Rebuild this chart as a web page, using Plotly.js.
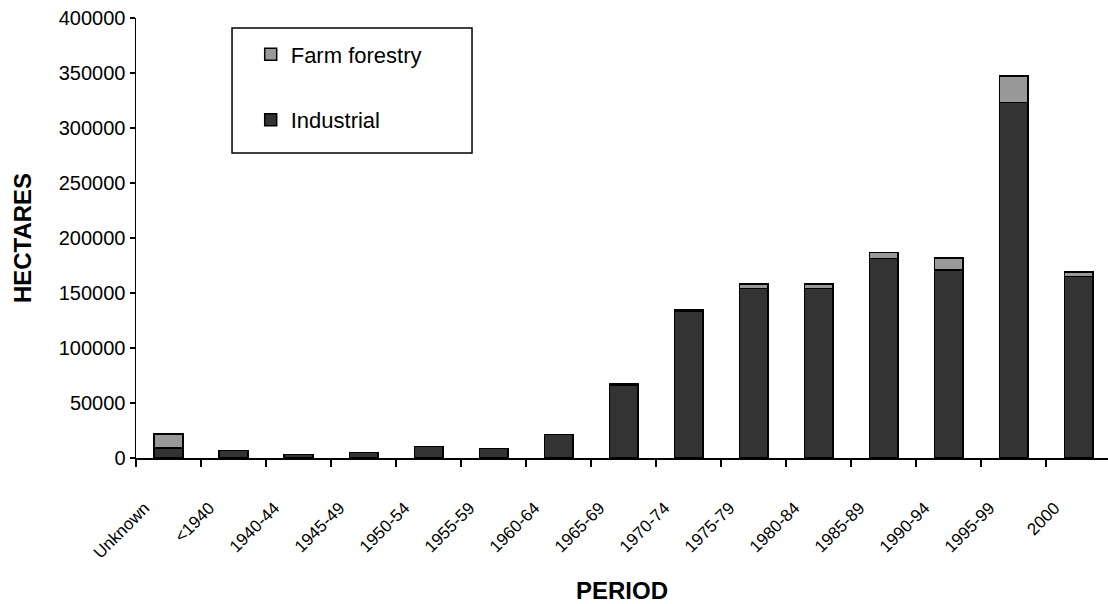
<!DOCTYPE html>
<html>
<head>
<meta charset="utf-8">
<script src="https://cdn.plot.ly/plotly-3.0.1.min.js"></script>
<style>
html,body{margin:0;padding:0;background:#fff;}
#chart{width:1108px;height:604px;}
</style>
</head>
<body>
<div id="chart"></div>
<script>
const categories = ["Unknown","<1940","1940-44","1945-49","1950-54","1955-59","1960-64","1965-69","1970-74","1975-79","1980-84","1985-89","1990-94","1995-99","2000"];
const industrial = [9000, 7000, 3000, 5000, 10500, 8500, 21500, 66000, 133000, 154000, 154000, 181500, 171000, 323000, 165000];
const farmForestry = [13000, 0, 0, 0, 0, 0, 0, 1500, 1500, 4000, 4000, 5500, 11000, 24500, 4000];
const yTicks = [0, 50000, 100000, 150000, 200000, 250000, 300000, 350000, 400000];

const FONT = '"Liberation Sans", Arial, sans-serif';

const traces = [
  {
    type: 'bar', name: 'Industrial', x: categories, y: industrial,
    legendgroup: 'ind', legendrank: 2,
    marker: {color: '#333333', line: {color: '#000000', width: 1.5}},
    hoverinfo: 'skip'
  },
  {
    type: 'bar', name: 'Farm forestry', x: categories, y: farmForestry,
    legendgroup: 'farm', legendrank: 1,
    marker: {color: '#999999', line: {color: '#000000', width: 1.5}},
    hoverinfo: 'skip'
  }
];

const layout = {
  width: 1108, height: 604,
  paper_bgcolor: '#ffffff', plot_bgcolor: '#ffffff',
  font: {family: FONT, color: '#000000', size: 20},
  margin: {l: 136, r: 0, t: 18, b: 146, pad: 0},
  barmode: 'stack',
  bargap: 0.56,
  showlegend: true,
  legend: {
    x: 0.118, y: 0.965, xanchor: 'left', yanchor: 'top',
    bgcolor: 'rgba(0,0,0,0)', borderwidth: 0,
    traceorder: 'grouped', tracegroupgap: 34,
    font: {family: FONT, size: 22, color: '#000000'}
  },
  shapes: [{
    type: 'rect', xref: 'paper', yref: 'paper',
    x0: 0.0988, x1: 0.3457, y0: 0.693, y1: 0.977,
    line: {color: '#000000', width: 1.5}, fillcolor: 'rgba(0,0,0,0)'
  }],
  xaxis: {
    type: 'category',
    range: [-0.5, 14.45],
    tickson: 'boundaries',
    ticks: 'outside', ticklen: 7, tickwidth: 1.5, tickcolor: '#000',
    showline: true, linecolor: '#000', linewidth: 1.5,
    showgrid: false, zeroline: false,
    tickangle: -45,
    ticklabelstandoff: 32,
    ticklabelshift: -24,
    tickfont: {family: FONT, size: 17, color: '#000'},
    title: {text: '<b>PERIOD</b>', font: {family: FONT, size: 24, color: '#000'}, standoff: 24},
    fixedrange: true
  },
  yaxis: {
    range: [0, 400000],
    tickvals: yTicks,
    ticktext: yTicks.map(String),
    ticks: 'outside', ticklen: 5, tickwidth: 1.5, tickcolor: '#000',
    showline: true, linecolor: '#000', linewidth: 1.5,
    showgrid: false, zeroline: false,
    tickfont: {family: FONT, size: 20, color: '#000'},
    title: {text: '<b>HECTARES</b>', font: {family: FONT, size: 24, color: '#000'}, standoff: 20},
    fixedrange: true
  }
};

Plotly.newPlot('chart', traces, layout, {staticPlot: true, displayModeBar: false});
</script>
</body>
</html>
